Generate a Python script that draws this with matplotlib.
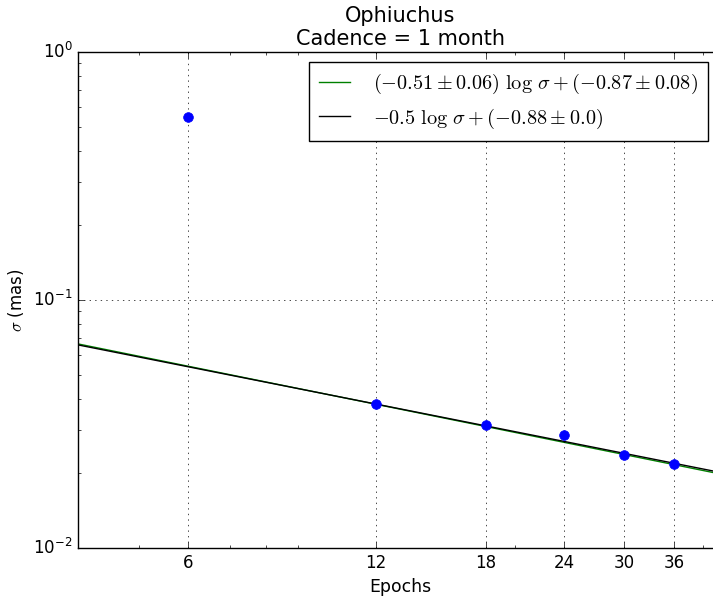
import numpy as np
import matplotlib
matplotlib.use("Agg")
import matplotlib.pyplot as plt
from matplotlib.ticker import FixedLocator, FixedFormatter, LogLocator, NullFormatter

plt.style.use("classic")
plt.rcParams["figure.facecolor"] = "white"
plt.rcParams["savefig.facecolor"] = "white"
plt.rcParams["mathtext.fontset"] = "cm"
plt.rcParams["axes.unicode_minus"] = False

# Measured astrometric precision versus number of epochs
epochs = [6, 12, 18, 24, 30, 36]
sigma = [0.547, 0.0381, 0.0313, 0.0286, 0.0237, 0.0218]

# Fitted power laws: log10(sigma) = slope * log10(N) + intercept
fit_slope, fit_slope_err = -0.51, 0.06
fit_icpt, fit_icpt_err = -0.87, 0.08
fixed_slope = -0.5
fixed_icpt, fixed_icpt_err = -0.88, 0.0

xticks = [6, 12, 18, 24, 30, 36]
xlim = (4.0, 43.0)
ylim = (1e-2, 1e0)

fig = plt.figure(figsize=(7.13, 6.01), dpi=100)
W, H = 713.0, 601.0
left_px, top_px, bottom_px = 78.0, 52.0, 548.0
px_per_dec = 624.5
right_px = left_px + px_per_dec * np.log10(xlim[1] / xlim[0])
ax = fig.add_axes([left_px / W, (H - bottom_px) / H,
                   (right_px - left_px) / W, (bottom_px - top_px) / H])

ax.set_xscale("log")
ax.set_yscale("log")

xx = np.logspace(np.log10(xlim[0]), np.log10(xlim[1]), 200)
lab_fit = (r"$(%.2f \pm %.2f)\ \log\,\sigma + (%.2f \pm %.2f)$"
           % (fit_slope, fit_slope_err, fit_icpt, fit_icpt_err))
lab_fixed = (r"$%.1f\ \log\,\sigma + (%.2f \pm %.1f)$"
             % (fixed_slope, fixed_icpt, fixed_icpt_err))
ax.plot(xx, 10 ** (fit_slope * np.log10(xx) + fit_icpt), color="green",
        lw=1.0, label=lab_fit)
ax.plot(xx, 10 ** (fixed_slope * np.log10(xx) + fixed_icpt), color="black",
        lw=1.0, label=lab_fixed)
ax.plot(epochs, sigma, "o", color="blue", mec="blue", ms=7, zorder=5)

ax.set_xlim(*xlim)
ax.set_ylim(*ylim)
ax.xaxis.set_major_locator(FixedLocator(xticks))
ax.xaxis.set_major_formatter(FixedFormatter([str(t) for t in xticks]))
ax.xaxis.set_minor_locator(LogLocator(base=10, subs=np.arange(2, 10)))
ax.xaxis.set_minor_formatter(NullFormatter())

ax.grid(True, which="major", color="black", linestyle=":", linewidth=0.5)

ax.set_xlabel("Epochs", fontsize=12.4)
ax.set_ylabel(r"$\sigma$ (mas)", fontsize=12)
ax.set_title("Ophiuchus\nCadence = 1 month", fontsize=15)

leg = ax.legend(loc="upper right", fontsize=14.6, numpoints=1,
                handlelength=1.5, handletextpad=1.15, labelspacing=0.5,
                borderpad=0.5, borderaxespad=0.0,
                bbox_to_anchor=(708.0 / W, (H - 62.0) / H),
                bbox_transform=fig.transFigure)
leg.get_frame().set_linewidth(1.0)

fig.savefig("out.png", dpi=100)
